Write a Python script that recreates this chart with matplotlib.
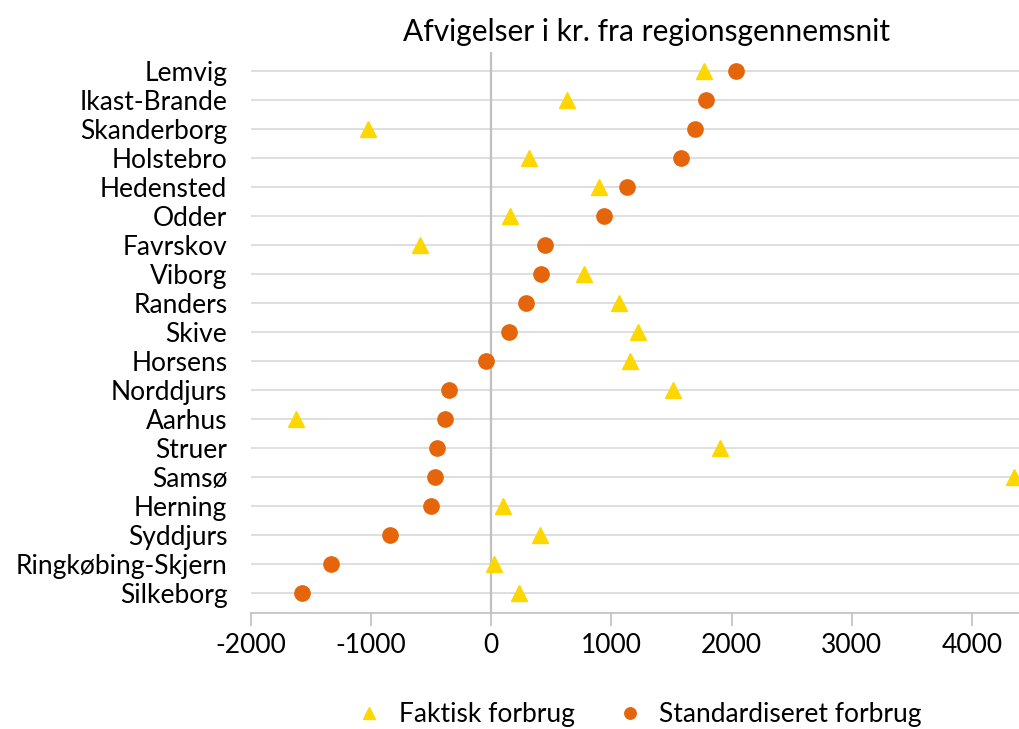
import numpy as np
import matplotlib
matplotlib.use("Agg")
import matplotlib.pyplot as plt

plt.rcParams['font.family'] = ['Lato', 'DejaVu Sans']
plt.rcParams['axes.unicode_minus'] = False

# municipalities, top to bottom
kommuner = ["Lemvig", "Ikast-Brande", "Skanderborg", "Holstebro", "Hedensted",
            "Odder", "Favrskov", "Viborg", "Randers", "Skive", "Horsens",
            "Norddjurs", "Aarhus", "Struer", "Samsø", "Herning", "Syddjurs",
            "Ringkøbing-Skjern", "Silkeborg"]
# deviation in kr. from region average
faktisk = [1772, 633, -1022, 311, 897, 155, -597, 775, 1061, 1217, 1156,
           1511, -1628, 1905, 4347, 94, 403, 19, 230]
standardiseret = [2036, 1789, 1692, 1583, 1128, 939, 450, 417, 289, 147, -47,
                  -353, -381, -450, -472, -500, -845, -1336, -1572]

ypos = np.arange(len(kommuner))

fig, ax = plt.subplots(figsize=(10.2, 7.29), dpi=100)
fig.subplots_adjust(left=0.246, right=1.0, top=0.929, bottom=0.159)

ax.plot(faktisk, ypos, linestyle='none', marker='^', markersize=12,
        color='#FFD700', label="Faktisk forbrug", zorder=3, clip_on=False)
ax.plot(standardiseret, ypos, linestyle='none', marker='o', markersize=11,
        color='#E4650A', label="Standardiseret forbrug", zorder=3)

ax.set_xlim(-2000, 4400)
ax.set_ylim(len(kommuner) - 1 + 0.68, -0.68)
ax.set_xticks(np.arange(-2000, 4001, 1000))
ax.set_yticks(ypos)
ax.set_yticklabels(kommuner)
ax.tick_params(axis='y', length=0, pad=17, labelsize=19)
ax.tick_params(axis='x', length=9, width=1.2, color='#bfbfbf', pad=5, labelsize=19)

for y in ypos:
    ax.axhline(y, color='#dcdcdc', linewidth=1.3, zorder=1)
ax.axvline(0, color='#c0c0c0', linewidth=1.6, zorder=2)

for s in ['top', 'right', 'left']:
    ax.spines[s].set_visible(False)
ax.spines['bottom'].set_color('#bfbfbf')
ax.spines['bottom'].set_linewidth(1.2)

ax.set_title("Afvigelser i kr. fra regionsgennemsnit", fontsize=21.5, pad=8, x=0.515)

ax.legend(loc='center', bbox_to_anchor=(0.625, 0.02),
          bbox_transform=fig.transFigure, ncol=2, frameon=False, fontsize=19,
          handletextpad=0.5, columnspacing=1.5, markerscale=0.75,
          handlelength=1.2, borderaxespad=0)

fig.savefig("out.png", dpi=100)
